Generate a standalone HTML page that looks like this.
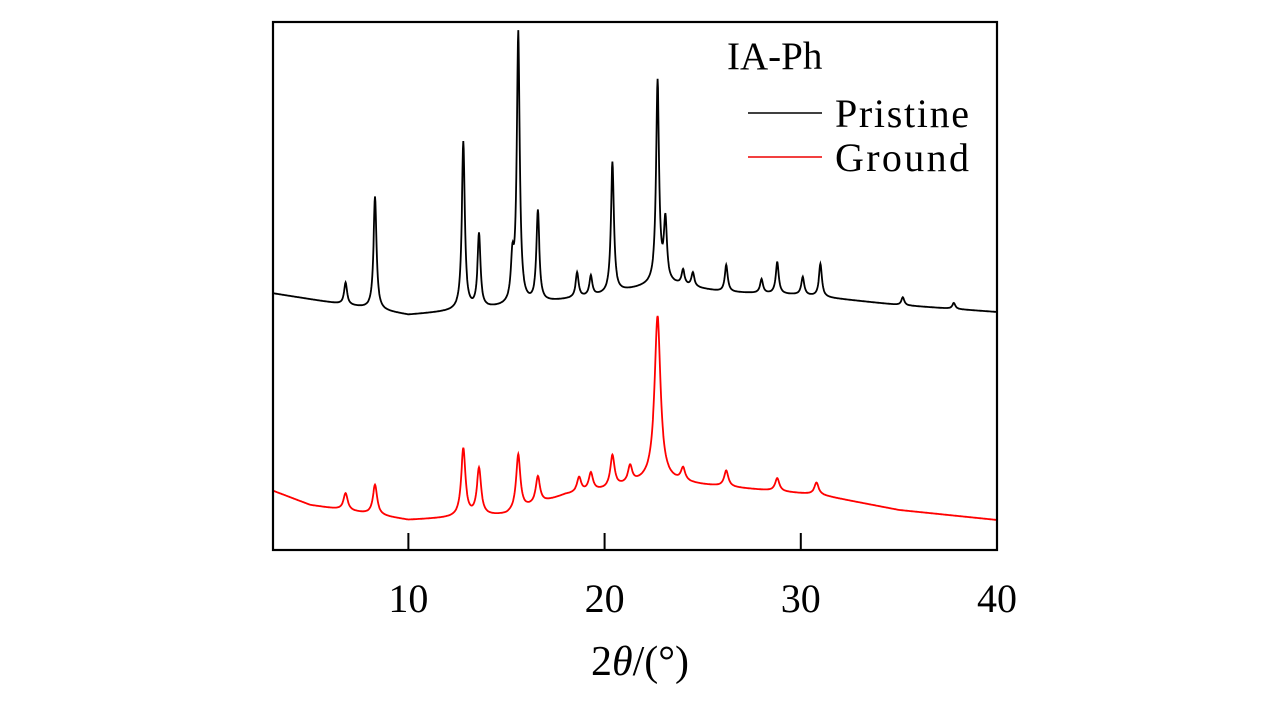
<!DOCTYPE html>
<html><head><meta charset="utf-8"><style>
html,body{margin:0;padding:0;background:#fff;}
svg{display:block;}
text{font-family:"Liberation Serif",serif;}
</style></head><body>
<svg id="chart" width="1276" height="709" viewBox="0 0 1276 709">
<g id="series"></g>
<rect x="273" y="22" width="724" height="528" fill="none" stroke="#000" stroke-width="2.2"/>
<g id="ticks"></g>
<text x="727" y="69" font-size="39">IA-Ph</text>
<line x1="748" y1="113" x2="822" y2="113" stroke="#000" stroke-width="1.5"/>
<text x="835" y="127" font-size="40" textLength="134">Pristine</text>
<line x1="748" y1="157" x2="822" y2="157" stroke="#e00" stroke-width="1.5"/>
<text x="835" y="171" font-size="40" textLength="134">Ground</text>
<text x="640" y="675" font-size="42" text-anchor="middle">2<tspan font-style="italic">θ</tspan>/(°)</text>
</svg>
<script>
const xTicks = [10, 20, 30, 40];
const pristineBaseX = [3, 10, 15, 20, 23, 26, 30, 35, 40];
const pristineBaseY = [257, 235, 243, 255, 267, 258, 255, 245, 238];
const pristinePeakPos = [6.8, 8.3, 12.8, 13.6, 15.3, 15.6, 16.6, 18.6, 19.3, 20.4, 22.7, 23.1, 24.0, 24.5, 26.2, 28.0, 28.8, 30.1, 31.0, 35.2, 37.8];
const pristinePeakH = [22, 113, 168, 74, 40, 271, 91, 25, 20, 131, 202, 60, 15, 14, 27, 14, 32, 18, 33, 8, 6];
const groundBaseX = [3, 5, 10, 15, 18, 20, 22.5, 25, 28, 31, 35, 40];
const groundBaseY = [60, 45, 30, 35, 55, 60, 70, 65, 60, 55, 40, 30];
const groundPeakPos = [6.8, 8.3, 12.8, 13.6, 15.6, 16.6, 18.7, 19.3, 20.4, 21.3, 22.7, 24.0, 26.2, 28.8, 30.8];
const groundPeakH = [17, 30, 68, 47, 56, 27, 15, 18, 32, 17, 164, 13, 16, 13, 12];

const X0 = 273, X1 = 997, Y0 = 550, Y1 = 22;
const xMin = 3.1, xMax = 40;
function xs(v){ return X0 + (v - xMin) / (xMax - xMin) * (X1 - X0); }
function ys(v){ return Y0 - v * (Y0 - Y1) / 528; }
function interp(bx, by, x){
  if (x <= bx[0]) return by[0];
  for (let i = 1; i < bx.length; i++) if (x <= bx[i]) {
    const t = (x - bx[i-1]) / (bx[i] - bx[i-1]); return by[i-1] + t * (by[i] - by[i-1]);
  }
  return by[by.length-1];
}
function profile(bx, by, pp, ph, w, x){
  let v = interp(bx, by, x);
  for (let i = 0; i < pp.length; i++) {
    const ww = (ph[i] > 150 && w > 0.1) ? w * 1.4 : w;
    const d = (x - pp[i]) / ww; v += ph[i] / (1 + d * d);
  }
  return v;
}
const ns = 'http://www.w3.org/2000/svg';
function drawSeries(bx, by, pp, ph, w, color, name){
  let d = '';
  for (let x = xMin; x <= xMax + 1e-9; x += 0.02) {
    d += (d ? 'L' : 'M') + xs(x).toFixed(1) + ',' + ys(profile(bx, by, pp, ph, w, x)).toFixed(1);
  }
  const p = document.createElementNS(ns, 'path');
  p.setAttribute('d', d); p.setAttribute('fill', 'none');
  p.setAttribute('stroke', color); p.setAttribute('stroke-width', '1.8');
  
  
  document.getElementById('series').appendChild(p);
}
drawSeries(pristineBaseX, pristineBaseY, pristinePeakPos, pristinePeakH, 0.09, '#000', 'pristine-line');
drawSeries(groundBaseX, groundBaseY, groundPeakPos, groundPeakH, 0.13, '#f00', 'ground-line');

const tg = document.getElementById('ticks');
xTicks.forEach(t => {
  const l = document.createElementNS(ns, 'line');
  l.setAttribute('x1', xs(t)); l.setAttribute('x2', xs(t));
  l.setAttribute('y1', Y0); l.setAttribute('y2', Y0 - 17);
  l.setAttribute('stroke', '#000'); l.setAttribute('stroke-width', '2');
  
  
  tg.appendChild(l);
  const tx = document.createElementNS(ns, 'text');
  tx.setAttribute('x', xs(t)); tx.setAttribute('y', 612);
  tx.setAttribute('font-size', '40'); tx.setAttribute('text-anchor', 'middle');
  tx.textContent = t;
  
  
  tg.appendChild(tx);
});
</script>
</body></html>
